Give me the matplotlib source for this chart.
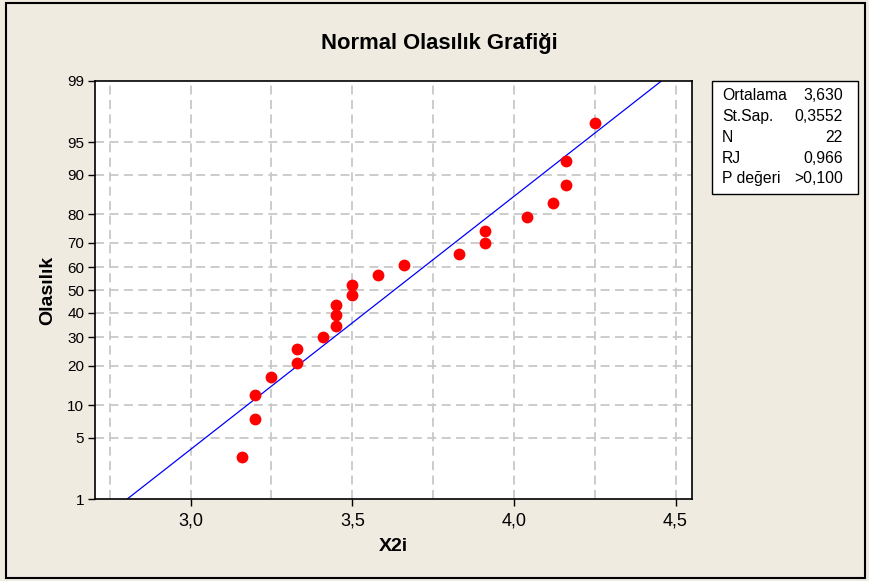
import math
import numpy as np
import matplotlib
matplotlib.use("Agg")
import matplotlib.pyplot as plt
from matplotlib.patches import Rectangle

plt.rcParams['font.family'] = ['Liberation Sans', 'DejaVu Sans']

# data (X2i values, sorted)
x2i = [3.16, 3.20, 3.20, 3.25, 3.33, 3.33, 3.41, 3.45, 3.45, 3.45, 3.50,
       3.50, 3.58, 3.66, 3.83, 3.91, 3.91, 4.04, 4.12, 4.16, 4.16, 4.25]
ortalama = 3.630
st_sap = 0.3552
stat_names = ['Ortalama', 'St.Sap.', 'N', 'RJ', 'P değeri']
stat_values = ['3,630', '0,3552', '22', '0,966', '>0,100']
prob_ticks = [1, 5, 10, 20, 30, 40, 50, 60, 70, 80, 90, 95, 99]
x_ticks = [3.0, 3.5, 4.0, 4.5]
x_grid = [2.75, 3.0, 3.25, 3.5, 3.75, 4.0, 4.25, 4.5]


def ppf(p):
    # inverse normal cdf by bisection
    lo, hi = -10.0, 10.0
    for _ in range(80):
        mid = (lo + hi) / 2
        if 0.5 * (1 + math.erf(mid / math.sqrt(2))) < p:
            lo = mid
        else:
            hi = mid
    return (lo + hi) / 2


n = len(x2i)
ranks = [(i - 0.3) / (n + 0.4) for i in range(1, n + 1)]
z_pts = [ppf(p) for p in ranks]

zlo, zhi = ppf(0.01), ppf(0.99)

fig = plt.figure(figsize=(8.69, 5.81), dpi=100)
bg = '#efebe1'
fig.patch.set_facecolor(bg)
fig.patches.append(Rectangle((6 / 869, 1 - 578 / 581), 859 / 869, 575 / 581,
                             transform=fig.transFigure, fill=False,
                             edgecolor='black', linewidth=1.5, zorder=0))

ax = fig.add_axes([0.1097, 0.1411, 0.6870, 0.7195])
ax.set_facecolor('white')

grid_kw = dict(color='#c8c8c8', linestyle=(0, (5, 3)), linewidth=1.3, zorder=1)
for g in x_grid:
    ax.axvline(g, **grid_kw)
for t in prob_ticks[1:-1]:
    ax.axhline(ppf(t / 100), **grid_kw)

zl = np.linspace(zlo, zhi, 50)
ax.plot(ortalama + st_sap * zl, zl, color='#0000ff', linewidth=0.9, zorder=2)
ax.plot(x2i, z_pts, 'o', color='#ff0000', markersize=8.5, markeredgewidth=0, zorder=3)

ax.set_xlim(2.705, 4.552)
ax.set_ylim(zlo, zhi)
ax.set_xticks(x_ticks)
ax.set_xticklabels([f'{v:.1f}'.replace('.', ',') for v in x_ticks], fontsize=13)
ax.set_yticks([ppf(t / 100) for t in prob_ticks])
ax.set_yticklabels([str(t) for t in prob_ticks], fontsize=11)
ax.tick_params(direction='out', length=5, width=1, pad=3)
ax.tick_params(axis='x', pad=5)
for s in ax.spines.values():
    s.set_linewidth(1.2)

ax.set_xlabel('X2i', fontsize=14, fontweight='bold', labelpad=6)
ax.set_ylabel('Olasılık', fontsize=14, fontweight='bold', labelpad=8)
fig.text(0.505, 1 - 43 / 581, 'Normal Olasılık Grafiği', fontsize=15.8,
         fontweight='bold', ha='center', va='center')

# stats box
fig.patches.append(Rectangle((711.7 / 869, 1 - 193.7 / 581), 146 / 869, 113 / 581,
                             transform=fig.transFigure, facecolor='white',
                             edgecolor='black', linewidth=1.0))
for i, (nm, val) in enumerate(zip(stat_names, stat_values)):
    yy = 1 - (96 + i * 20.7) / 581
    fig.text(722 / 869, yy, nm, fontsize=11.3, ha='left', va='center')
    fig.text(843 / 869, yy, val, fontsize=11.3, ha='right', va='center')

fig.savefig('out.png', dpi=100, facecolor=bg)
